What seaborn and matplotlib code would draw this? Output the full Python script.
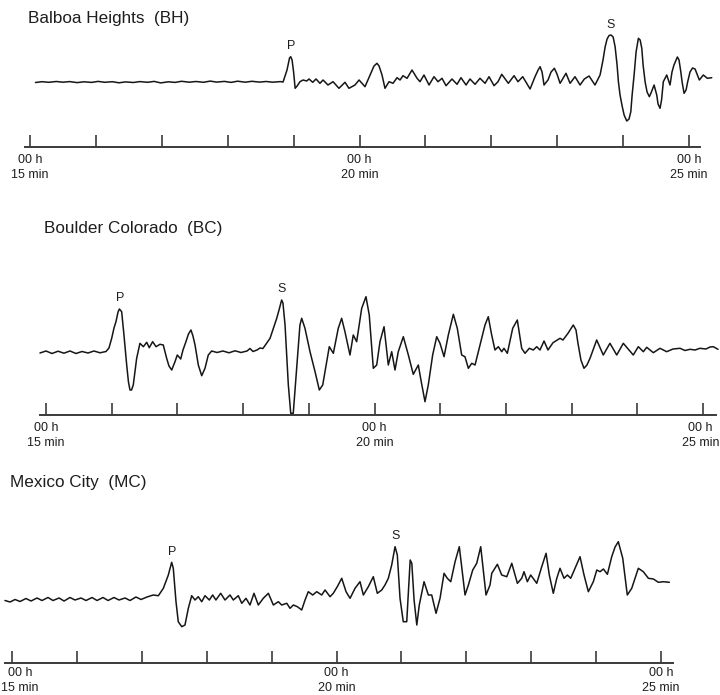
import numpy as np
import pandas as pd
import matplotlib
matplotlib.use("Agg")
import matplotlib.pyplot as plt
import seaborn as sns

# ---------------- data (time in s after 00 h 15 min, trace deflection) ----------------
station_names = ["Balboa Heights  (BH)", "Boulder Colorado  (BC)", "Mexico City  (MC)"]
minute_ticks = [0, 60, 120, 180, 240, 300, 360, 420, 480, 540, 600]
tick_text = {0: "00 h\n15 min", 300: "00 h\n20 min", 600: "00 h\n25 min"}

bh_trace = [
    (5, -0.5), (11, 0.3), (17, -0.3), (24, 0.5), (30, -0.2), (36, 0.4), (43, -0.6), (49, 0.2),
    (56, -0.4), (62, 0.6), (68, -0.3), (75, 0.3), (81, -0.8), (87, 0.1), (94, -0.5), (100, 0.4),
    (107, -0.3), (113, 0.6), (119, -0.9), (126, 0.2), (132, -0.4), (138, 0.7), (145, -0.2),
    (151, 0.5), (158, -0.3), (164, 0.9), (170, -0.1), (177, 0.6), (183, -0.4), (189, 0.8),
    (196, -0.2), (202, 0.7), (209, -0.1), (215, 0.5), (221, -0.2), (228, 0.4),
    (230.4, 0), (234.0, 12), (236.3, 24), (237.4, 25.3), (238.6, 22), (240.0, 10), (241.4, -6.3),
    (243.2, -4), (245.8, 0.3), (248.6, 2), (251.9, 1), (254.0, 3), (257.4, -0.3), (260.4, 3),
    (264.0, -1.3), (266.8, 2), (271.3, -3), (275.9, 0.3), (281.3, -6.3), (286.8, -0.3),
    (290.4, -6.3), (295.9, -3), (299.6, 2), (305.0, -4.7), (309.6, 7), (313.2, 16), (315.9, 18.7),
    (317.8, 16), (320.5, 7), (323.2, -6.3), (326.9, 0.3), (330.5, -1.3), (334.2, 4.3), (336.9, 2),
    (339.6, 6.3), (343.3, 3.7), (347.8, 12), (352.4, 3.7), (355.1, 0.3), (358.7, 7), (363.3, -3),
    (367.8, 5.3), (371.5, 0.3), (375.1, 3.7), (378.8, -3.7), (384.2, 3), (388.8, -2.3),
    (392.4, 4.3), (397.0, -3), (400.6, 3), (405.2, -2.3), (409.7, 3.7), (414.3, -1.3),
    (417.9, 5.3), (422.5, -3.7), (426.1, 0.3), (429.5, 7.7), (435.5, -1.3), (440.7, 6.3),
    (444.3, 0.3), (448.6, 5.3), (455.3, -7), (459.8, 5.3), (462.6, 12), (464.4, 15.3), (466.2, 10),
    (468.0, -3), (471.6, 2), (474.4, 10), (477.4, 13.7), (479.8, 8), (482.6, -1.3), (488.0, 8.7),
    (491.7, -1.3), (496.2, 5.3), (500.8, -3), (504.7, 3), (509.0, 6), (514.4, -3), (519.0, 7),
    (521.7, 22), (523.6, 35), (525.4, 43), (527.2, 46.5), (529.0, 47), (530.9, 45), (532.7, 35.3),
    (534.5, 17), (535.7, 0.3), (537.2, -13), (539.1, -24), (540.9, -33), (543.3, -39),
    (545.4, -37), (547.0, -29.7), (548.2, -13), (550.0, 7), (551.8, 30), (553.9, 43.7),
    (555.5, 42), (557.0, 33.7), (558.2, 17), (560.0, 0.3), (561.8, -10), (563.9, -14.7),
    (565.4, -11), (568.2, -3), (570.6, -13), (571.8, -22), (573.6, -26.3), (575.0, -18),
    (576.6, 0.3), (579.7, 7), (582.7, -3), (584.5, 10), (586.3, 17), (589.4, 25), (590.9, 22),
    (592.5, 10.3), (593.7, 0), (595.5, -11.3), (597.3, -8), (598.8, 0.3), (600.9, 10),
    (603.2, 14), (605.5, 13), (607.3, 8), (609.4, 2), (613.0, 7), (616.7, 3.7), (620.7, 4.3),
]

bc_trace = [
    (-5.5, -1), (0, 1), (5.5, -1.5), (11.0, 0.8), (16.4, -1.2), (21.9, 1), (27.4, -1.5),
    (32.9, 0.5), (38.4, -1), (43.8, 1), (49.3, -0.8), (54.8, 0.5),
    (57.5, 4), (60.0, 13.7), (62.1, 24), (63.9, 30.3), (65.8, 40), (67.0, 43), (69.1, 40.3),
    (71.2, 17), (73.7, -13), (75.3, -30), (76.7, -38), (78.1, -38), (79.7, -33), (82.8, -6.3),
    (85.8, 8.7), (88.9, 5.3), (92.0, 9.7), (94.3, 4.3), (97.4, 10.3), (100.5, 5.3), (104.1, 7.7),
    (107.1, 7), (110.2, -6.3), (112.3, -14), (114.8, -18), (117.8, -9.7), (119.9, -3),
    (123.0, -7), (125.1, 2), (127.8, 10.3), (130.1, 18), (132.4, 22), (134.2, 16), (136.1, 7),
    (139.1, -13), (142.2, -23.7), (145.2, -16.3), (148.2, -3), (151.3, 1), (156.2, -0.5),
    (161.6, 1), (167.1, -0.8), (172.6, 1.2), (178.1, -0.5), (183.6, 1), (186.3, 3.5),
    (189.0, 0.5), (192.7, 2), (195.4, 4), (198.1, 3.5), (204.6, 13.7), (210.7, 33.7),
    (212.8, 42), (215.2, 52), (216.4, 49), (218.3, 27), (221.3, -33), (223.5, -61.3),
    (225.8, -61.3), (228.9, -16.3), (231.9, 27), (233.5, 33.7), (236.5, 23.7), (241.1, 0.3),
    (245.7, -19.7), (249.6, -38), (252.7, -33), (256.3, -9.7), (258.7, 5.3), (262.4, -1.3),
    (266.9, 23.7), (270.0, 33.7), (273.0, 20.3), (277.6, -3), (280.6, 17), (283.7, 10.3),
    (288.3, 43.7), (292.2, 55.3), (295.2, 37), (298.9, -16.3), (302.0, -13), (305.0, 10.3),
    (308.7, 25.3), (312.6, -13), (315.7, 0.3), (318.7, -18), (321.7, 0.3), (326.3, 15.3),
    (330.9, -3), (335.4, -22.3), (340.0, -13), (342.4, -28), (346.1, -49.7), (349.1, -33),
    (353.1, -3), (356.8, 15.3), (359.8, 8.7), (363.5, -4.7), (367.4, 17), (372.0, 37.7),
    (375.6, 23.7), (379.6, -3), (382.6, -4.7), (385.7, -16.3), (388.8, -11.3), (391.8, -13),
    (396.3, 7), (400.9, 27), (403.9, 35.3), (407.0, 17), (410.0, 2), (413.1, 5.3), (416.2, 0.3),
    (418.2, 3.7), (421.3, -1.3), (426.2, 23.7), (430.4, 32), (434.4, 3.7), (437.4, -1.3),
    (441.4, 3.7), (445.0, 2), (448.1, 5.3), (451.1, 2), (454.8, 11), (458.4, 2), (463.0, 9.3),
    (469.4, 13.7), (472.1, 12), (476.7, 18.7), (481.5, 27), (484.0, 22), (485.8, 8.7),
    (488.5, -8), (491.3, -16.3), (494.0, -13), (496.8, -6.3), (502.9, 12), (508.9, -3),
    (515.0, 8.7), (521.2, -3), (527.2, 8.7), (536.3, -3), (540.9, 5.3), (545.5, 0.3),
    (548.6, 4.7), (554.6, -0.7), (560.7, 3.7), (566.8, 0.3), (572.6, 3), (579.0, 3.7),
    (583.5, 1.5), (588.1, 2.7), (592.7, 2), (597.2, 3.7), (602.7, 3), (606.4, 5), (609.4, 5.3),
    (613.7, 2.7),
]

mc_trace = [
    (-6.5, -0.5), (-1.8, -2), (2.8, 0.5), (7.4, -1.5), (12.9, 1.5), (17.6, -1), (23.1, 2),
    (27.7, -0.5), (33.3, 2.5), (37.9, -0.5), (43.5, 2), (48.1, -1), (53.6, 2.5), (58.2, 0),
    (63.8, 2), (68.4, -0.5), (74.0, 2.5), (78.6, -0.5), (84.1, 2.5), (88.8, -0.5), (94.3, 2.5),
    (98.9, 0), (104.5, 2), (109.1, -0.5), (114.6, 3), (119.3, 0.5), (124.8, 3), (130.6, 5),
    (135.3, 4.3), (139.9, 11.7), (144.5, 25), (147.6, 37.7), (149.1, 31.7), (151.6, -1.7),
    (153.7, -21.7), (156.9, -26.7), (159.9, -25), (163.0, -8.3), (166.1, 4.3), (169.2, 0),
    (172.2, 3.3), (175.4, -1.7), (178.4, 4.3), (182.4, 0), (185.5, 5), (188.5, 0), (192.9, 6.7),
    (196.9, 0), (201.5, 5), (204.6, 0), (209.2, 4.3), (212.4, -3.3), (216.3, 1.7), (220.0, -5),
    (223.7, 6.7), (227.7, -5), (232.3, 1.7), (237.0, 6.7), (241.6, -5), (246.2, -1.7),
    (249.3, -5), (254.0, -3.3), (257.0, -8.3), (260.1, -5), (263.8, -6.7), (267.8, -10),
    (270.9, 0), (273.9, 8.3), (278.0, 5), (281.7, 8.3), (286.3, 5), (289.4, 10), (294.0, 3.3),
    (297.0, 6.7), (300.7, 13.3), (304.8, 21.7), (308.8, 8.3), (312.5, 1.7), (317.1, 11.7),
    (321.7, 18.3), (324.8, 5), (329.4, 13.3), (334.0, 23.3), (337.7, 6.7), (341.8, 10),
    (344.8, 15), (347.9, 21.7), (351.0, 35), (354.1, 53.3), (356.2, 45), (358.7, 1.7),
    (361.7, -21.7), (364.9, -21.7), (368.1, 40), (369.6, 36.7), (371.7, 0), (374.2, -25),
    (376.5, -5), (380.9, 18.3), (384.9, 5), (388.0, 5), (392.0, -13.3), (395.7, 1.7),
    (399.4, 26.7), (402.4, 21.7), (405.6, 18.3), (409.6, 38.3), (413.5, 53.3), (418.8, 5),
    (421.9, 15), (425.9, 30), (429.6, 36.7), (433.3, 53.3), (438.2, 5), (441.9, 15),
    (443.5, 26.7), (448.7, 35.7), (452.7, 25), (457.4, 23.3), (462.0, 36.7), (467.2, 16.7),
    (471.2, 21.7), (473.3, 28.3), (476.4, 18.3), (479.5, 25), (485.1, 16.7), (489.7, 33.3),
    (493.7, 46.7), (496.7, 25), (500.4, 6.7), (503.6, 21.7), (506.6, 31.7), (510.3, 21.7),
    (513.4, 25), (516.5, 21.7), (520.5, 31.7), (525.1, 43.3), (528.8, 25), (532.8, 8.3),
    (537.4, 18.3), (540.6, 30), (543.6, 28.3), (546.7, 31), (550.4, 25.7), (554.4, 43.3),
    (557.5, 53), (560.5, 58.3), (564.6, 41.7), (568.8, 5), (572.9, 11.7), (579.0, 31.7),
    (583.6, 28.3), (588.3, 21.7), (592.9, 21), (597.5, 17.7), (602.1, 18.3), (607.7, 17.7),
]

bh_picks = {"P": 237.4, "S": 529.0}
bc_picks = {"P": 67.6, "S": 215.5}
mc_picks = {"P": 148.0, "S": 355.0}

# ---------------- layout (pixels of a 720 x 695 canvas) ----------------
W, H = 720, 695
layout = [
    dict(top=30, bottom=147, xlim=(-27.3, 628.2), ylim=(-65, 52), span=(-4.6, 609.9),
         title=(28, 23), pad=5.0),
    dict(top=285, bottom=415, xlim=(-42.0, 615.5), ylim=(-63, 67), span=(-5.5, 611.8),
         title=(44, 233), pad=5.0),
    dict(top=530, bottom=663, xlim=(-11.1, 654.5), ylim=(-63, 70), span=(-6.5, 611.0),
         title=(10, 487), pad=3.0),
]

sns.set_theme(style="ticks")
plt.rcParams["font.family"] = ["Liberation Sans", "DejaVu Sans"]

fig = plt.figure(figsize=(W / 100, H / 100), dpi=100)
fig.patch.set_facecolor("white")

traces = [bh_trace, bc_trace, mc_trace]
picks = [bh_picks, bc_picks, mc_picks]
ink = "#161616"
txt = "#1e1e1e"
axes = []

for name, trace, pk, lay in zip(station_names, traces, picks, layout):
    ax = fig.add_axes([0, 1 - lay["bottom"] / H, 1, (lay["bottom"] - lay["top"]) / H])
    ax.set_facecolor("none")
    df = pd.DataFrame(trace, columns=["time", "amp"])
    sns.lineplot(data=df, x="time", y="amp", ax=ax, color=ink, linewidth=1.1,
                 estimator=None, sort=False, clip_on=False)
    ax.set_xlim(*lay["xlim"])
    ax.set_ylim(*lay["ylim"])
    ax.set_xlabel("")
    ax.set_ylabel("")
    for s in ["top", "left", "right"]:
        ax.spines[s].set_visible(False)
    ax.spines["bottom"].set_bounds(*lay["span"])
    ax.spines["bottom"].set_color("#3a3a3a")
    ax.spines["bottom"].set_linewidth(1.4)
    ax.set_yticks([])
    ax.set_xticks(minute_ticks)
    ax.set_xticklabels([tick_text.get(t, "") for t in minute_ticks])
    ax.tick_params(axis="x", direction="in", length=8.5, width=1.1, color="#2a2a2a",
                   pad=lay["pad"], labelsize=9.0, labelcolor=txt)
    for lbl in ax.get_xticklabels():
        lbl.set_linespacing(1.35)
    axes.append(ax)

    t_arr = df["time"].to_numpy()
    a_arr = df["amp"].to_numpy()
    for phase, t in pk.items():
        near = np.abs(t_arr - t) <= 3
        top = a_arr[near].max()
        ax.text(t, top + 7.5, phase, ha="center", va="baseline", fontsize=9,
                color=txt, clip_on=False)

    fig.text(lay["title"][0] / W, 1 - lay["title"][1] / H, name, ha="left", va="baseline",
             fontsize=12.3, color=txt)

# keep the outermost time labels fully inside the canvas
fig.canvas.draw()
renderer = fig.canvas.get_renderer()
for ax, lay in zip(axes, layout):
    for tick_val, lbl in zip(minute_ticks, ax.get_xticklabels()):
        if not lbl.get_text():
            continue
        bb = lbl.get_window_extent(renderer)
        shift = 0.0
        if bb.x0 < 1:
            shift = 1 - bb.x0
        elif bb.x1 > W - 1:
            shift = (W - 1) - bb.x1
        if shift != 0.0:
            lbl.set_visible(False)
            ax.annotate(lbl.get_text(), xy=(tick_val, 0), xycoords=ax.get_xaxis_transform(),
                        xytext=(shift * 0.72, -(8.5 * 0 + lay["pad"])),
                        textcoords="offset points", ha="center", va="top",
                        fontsize=9.0, color=txt, linespacing=1.35, annotation_clip=False)

fig.savefig("out.png", dpi=100, facecolor="white")
